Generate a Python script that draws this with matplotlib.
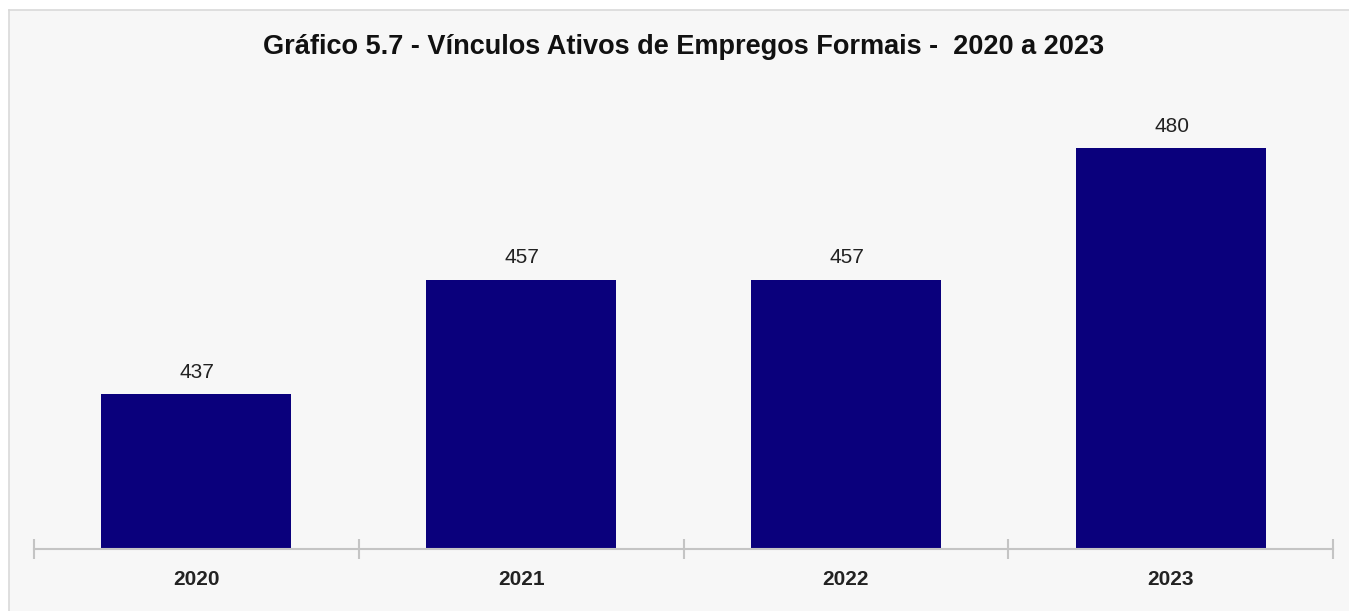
import matplotlib
matplotlib.use("Agg")
import matplotlib.pyplot as plt
import numpy as np

plt.rcParams['font.family'] = ['Liberation Sans', 'DejaVu Sans']

title = "Gráfico 5.7 - Vínculos Ativos de Empregos Formais -  2020 a 2023"
years = ["2020", "2021", "2022", "2023"]
values = [437, 457, 457, 480]

W, H = 1349, 611
fig = plt.figure(figsize=(W / 100, H / 100), dpi=100)
fig.patch.set_facecolor("white")

# panel background
bg = fig.add_axes([9 / W, -0.01, 1.01, 1 - 10 / H + 0.01], zorder=-5)
bg.set_facecolor("#f7f7f7")
bg.set_xticks([]); bg.set_yticks([])
for s in bg.spines.values():
    s.set_color("#d9d9d9"); s.set_linewidth(1.2)

left, right = 34 / W, 1333 / W
bottom = (H - 549) / H
top = (H - 91) / H
ax = fig.add_axes([left, bottom, right - left, top - bottom], zorder=1)
ax.set_facecolor("none")

x = np.arange(len(years))
ax.bar(x, values, width=0.585, color="#0a007c", zorder=2)
ax.set_xlim(-0.5, len(years) - 0.5)
ax.set_ylim(410, 490)

for xi, v in zip(x, values):
    ax.annotate(str(v), (xi, v), xytext=(1, 22), textcoords="offset pixels",
                ha="center", va="center", fontsize=15, color="#222222")

for s in ["left", "right", "top"]:
    ax.spines[s].set_visible(False)
ax.spines["bottom"].set_color("#c4c4c4")
ax.spines["bottom"].set_linewidth(1.5)
ax.set_yticks([])

ax.set_xticks(np.arange(-0.5, len(years), 1.0))
ax.set_xticklabels([])
ax.tick_params(axis="x", which="major", direction="inout", length=14,
               color="#c4c4c4", width=1.5)
ax.set_xticks(x, minor=True)
ax.set_xticklabels(years, minor=True, fontsize=15, fontweight="bold", color="#222222")
ax.tick_params(axis="x", which="minor", length=0, pad=15)

fig.text(684 / W, 1 - 47 / H, title, ha="center", va="center",
         fontsize=19.5, fontweight="bold", color="#111111")

fig.savefig("out.png", dpi=100, facecolor=fig.get_facecolor())
